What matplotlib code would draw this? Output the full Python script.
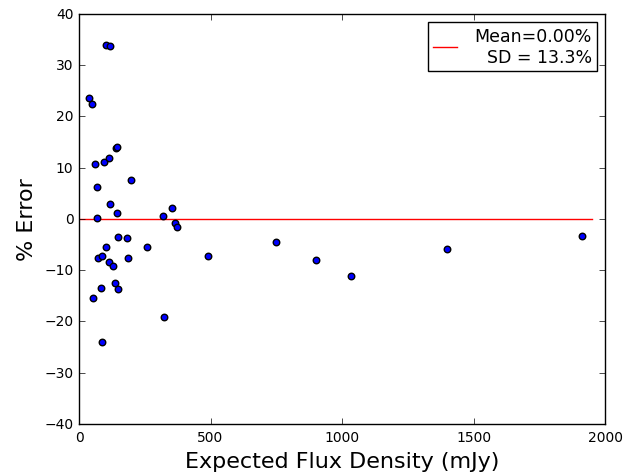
import numpy as np
import matplotlib
matplotlib.use('Agg')
import matplotlib.pyplot as plt

plt.style.use('classic')

# Expected flux density (mJy) and percentage error of each source
flux = [103, 119, 39, 49, 140, 145, 62, 94, 115, 68, 198,
        117, 145, 68, 321, 354, 365, 371, 150, 183, 260, 103,
        74, 88, 186, 113, 129, 492, 138, 148, 83, 55, 324, 86,
        749, 900, 1033, 1400, 1912]
err = [34.0, 33.8, 23.5, 22.5, 13.9, 14.1, 10.7, 11.0, 11.8, 6.3, 7.6,
       3.0, 1.2, 0.2, 0.5, 2.2, -0.85, -1.6, -3.6, -3.8, -5.4, -5.4,
       -7.7, -7.3, -7.7, -8.4, -9.2, -7.2, -12.5, -13.7, -13.4, -15.4, -19.1, -24.1,
       -4.5, -8.0, -11.2, -5.9, -3.25]

mean_err = 0.0
sd_err = 13.3
line_x = [0, 1950]

fig = plt.figure(figsize=(6.27, 4.77), dpi=100)
ax = fig.add_axes([0.126, 0.109, 0.839, 0.860])

ax.plot(line_x, [mean_err, mean_err], color='r',
        label='Mean=%.2f%%\nSD = %.1f%%' % (mean_err, sd_err))
ax.scatter(flux, err, s=22, c='b', edgecolors='k', zorder=3)

ax.set_xlim(0, 2000)
ax.set_ylim(-40, 40)
ax.set_xticks([0, 500, 1000, 1500, 2000])
ax.set_yticks(np.arange(-40, 41, 10))
ax.tick_params(labelsize=10)
ax.set_xlabel('Expected Flux Density (mJy)', fontsize=16)
ax.set_ylabel('% Error', fontsize=16)

leg = ax.legend(loc='upper right', fontsize=12.5, numpoints=1,
                handlelength=1.4, handletextpad=1.0, borderaxespad=0.45,
                borderpad=0.3, labelspacing=0.3)
for t in leg.get_texts():
    t.set_multialignment('right')

fig.savefig('out.png', dpi=100)
